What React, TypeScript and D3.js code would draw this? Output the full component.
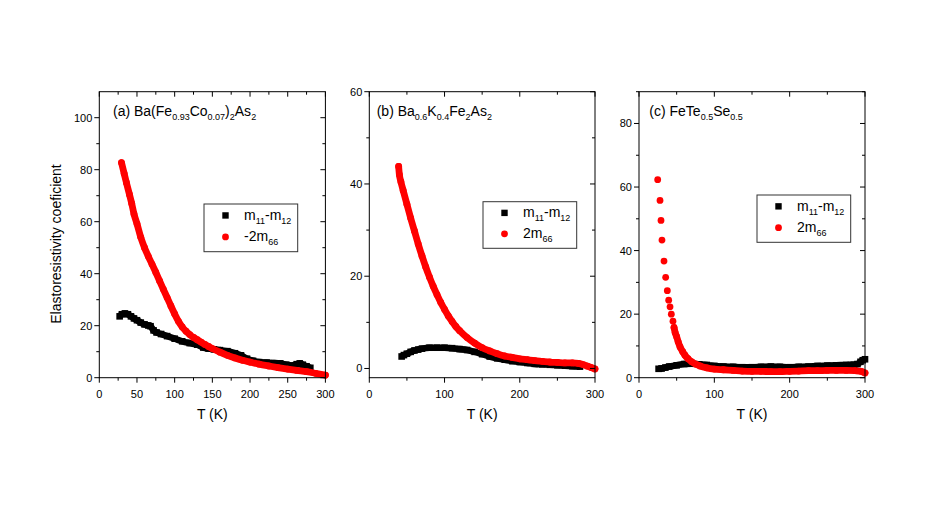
import React from "react";
import * as d3 from "d3";

type Pt = [number, number];

// (a) Ba(Fe0.93Co0.07)2As2
const aBlack: Pt[] = [
  [27, 23.6], [30, 24.4], [34, 24.7], [38, 24.4], [42, 23.6], [46, 22.8], [50, 22.1],
  [55, 21.2], [60, 20.5], [65, 20.1], [68, 19.8], [72, 18.2], [76, 17.4], [82, 16.8],
  [90, 16], [100, 15], [110, 14], [120, 13.3], [130, 12.7], [138, 11.6], [145, 11.2],
  [152, 10.9], [160, 10.6], [170, 10.2], [180, 9.4], [188, 8.6], [196, 7.3],
  [204, 6.5], [212, 6], [222, 5.8], [232, 5.6], [240, 5.5], [248, 5], [255, 4.7],
  [262, 5.2], [266, 5.5], [270, 5], [275, 4.4], [280, 3.8],
];
const aRed: Pt[] = [
  [29.5, 82.7], [33, 78.5], [36, 75], [40, 70.5], [43, 67], [46, 63], [50, 59.2],
  [55, 54], [60, 50], [65, 46.7], [70, 43.6], [75, 40.5], [80, 37.2], [85, 34],
  [90, 30.8], [95, 27.6], [100, 24.5], [105, 21.7], [110, 19.5], [115, 17.9],
  [120, 16.6], [125, 15.5], [130, 14.6], [135, 13.7], [140, 12.8], [145, 12],
  [150, 11.2], [160, 9.8], [170, 8.6], [180, 7.6], [190, 6.7], [200, 6], [212, 5.2],
  [225, 4.5], [237, 3.9], [250, 3.3], [262, 2.8], [275, 2.3], [287, 1.7], [300, 1],
];

// (b) Ba0.6K0.4Fe2As2
const bBlack: Pt[] = [
  [43, 2.6], [46, 2.9], [50, 3.2], [55, 3.6], [60, 3.9], [65, 4.1], [70, 4.3], [80, 4.5],
  [90, 4.5], [100, 4.5], [110, 4.4], [120, 4.2], [130, 4], [140, 3.6], [150, 3.1],
  [160, 2.6], [170, 2.2], [180, 1.9], [190, 1.6], [200, 1.4], [210, 1.2], [220, 1],
  [230, 0.9], [240, 0.8], [250, 0.7], [260, 0.6], [270, 0.5], [280, 0.4],
];
const bRed: Pt[] = [
  [39, 43.8], [40, 42], [42, 40.5], [45, 38.6], [50, 35.6], [55, 32.6], [60, 29.8],
  [65, 27], [70, 24.4], [75, 22], [80, 19.8], [85, 17.8], [90, 16], [95, 14.3],
  [100, 12.8], [105, 11.4], [110, 10.2], [115, 9.1], [120, 8.2], [130, 6.7], [140, 5.5],
  [150, 4.5], [160, 3.8], [170, 3.2], [180, 2.7], [190, 2.4], [200, 2.1], [210, 1.9],
  [220, 1.7], [230, 1.55], [240, 1.4], [250, 1.3], [260, 1.2], [270, 1.2], [278, 1.1],
  [285, 0.8], [290, 0.5], [295, 0.2], [300, -0.1],
];

// (c) FeTe0.5Se0.5
const cBlack: Pt[] = [
  [26, 2.8], [30, 2.9], [35, 3.2], [40, 3.5], [50, 3.9], [60, 4.3], [70, 4.4], [80, 4.2],
  [90, 4], [100, 3.7], [112, 3.5], [125, 3.4], [137, 3.3], [150, 3.3], [162, 3.4],
  [175, 3.5], [187, 3.4], [200, 3.3], [212, 3.4], [225, 3.5], [237, 3.7], [250, 3.8],
  [262, 3.9], [275, 4], [285, 4.1], [290, 4.3], [294, 5], [297, 5.5], [300, 5.8],
];
const cRedSparse: Pt[] = [
  [24.8, 62.3], [27.9, 55.8], [29.2, 49.5], [30.5, 43.3], [33.2, 36.7], [35.4, 31.6],
  [37.6, 27.4], [39.4, 24.4], [41.2, 22.3], [42.9, 20], [45.1, 17.8],
];
const cRed: Pt[] = [
  [46.5, 15.8], [48, 14.2], [50, 12.9], [52, 11.3], [54.5, 9.7], [58, 8.2], [61, 7.1],
  [65, 6], [70, 5], [75, 4.3], [81, 3.7], [90, 3.1], [100, 2.7], [112, 2.5], [125, 2.3],
  [137, 2.1], [150, 2], [162, 2], [175, 1.9], [187, 1.9], [200, 2], [212, 2.1],
  [225, 2.2], [237, 2.2], [250, 2.3], [262, 2.3], [275, 2.3], [287, 2.2], [295, 2],
  [300, 1.5],
];

const font = "'Liberation Sans', Arial, sans-serif";
const SUB_DY = 4;

// text with _{..} subscripts
const Rich: React.FC<{ x: number; y: number; s: string; size?: number; subSize?: number }> = ({
  x,
  y,
  s,
  size = 14,
  subSize = 9,
}) => {
  const parts = s.split(/(_\{[^}]*\})/).filter((d) => d !== "");
  let low = false;
  return (
    <text x={x} y={y} fontSize={size} fontFamily={font}>
      {parts.map((p, i) => {
        const isSub = p.startsWith("_{");
        const t = isSub ? p.slice(2, -1) : p;
        let dy = 0;
        if (isSub && !low) dy = SUB_DY;
        if (!isSub && low) dy = -SUB_DY;
        low = isSub;
        return (
          <tspan key={i} dy={dy} fontSize={isSub ? subSize : size}>
            {t}
          </tspan>
        );
      })}
    </text>
  );
};

interface Panel {
  left: number;
  right: number;
  yDomain: [number, number];
  yMajor: number[];
  yMinor: number[];
  xMajor: number[];
  xMinor: number[];
  title: string;
  titleX: number;
  black: Pt[];
  red: Pt[];
  redSparse: Pt[];
  redLabel: string;
  legend: [number, number, number, number];
}

const TOP = 91.7;
const BOTTOM = 377.7;

const panels: Panel[] = [
  {
    left: 99.3,
    right: 325.4,
    yDomain: [0, 110],
    yMajor: [0, 20, 40, 60, 80, 100],
    yMinor: [10, 30, 50, 70, 90],
    xMajor: [0, 50, 100, 150, 200, 250, 300],
    xMinor: [25, 75, 125, 175, 225, 275],
    titleX: 113,
    title: "(a) Ba(Fe_{0.93}Co_{0.07})_{2}As_{2}",
    black: aBlack,
    red: aRed,
    redSparse: [],
    redLabel: "-2m_{66}",
    legend: [204, 204, 297.7, 251.7],
  },
  {
    left: 369.3,
    right: 595,
    yDomain: [-2, 60],
    yMajor: [0, 20, 40, 60],
    yMinor: [10, 30, 50],
    xMajor: [0, 100, 200, 300],
    xMinor: [50, 150, 250],
    titleX: 376.7,
    title: "(b) Ba_{0.6}K_{0.4}Fe_{2}As_{2}",
    black: bBlack,
    red: bRed,
    redSparse: [],
    redLabel: "2m_{66}",
    legend: [483, 201.7, 576.7, 248.3],
  },
  {
    left: 639,
    right: 865,
    yDomain: [0, 90],
    yMajor: [0, 20, 40, 60, 80],
    yMinor: [10, 30, 50, 70, 90],
    xMajor: [0, 100, 200, 300],
    xMinor: [50, 150, 250],
    titleX: 649.3,
    title: "(c) FeTe_{0.5}Se_{0.5}",
    black: cBlack,
    red: cRed,
    redSparse: cRedSparse,
    redLabel: "2m_{66}",
    legend: [757, 195, 850.7, 242.3],
  },
];

const R = 3.4;
const SQ = 6.6;

const PanelView: React.FC<{ p: Panel }> = ({ p }) => {
  const x = d3.scaleLinear().domain([0, 300]).range([p.left, p.right]);
  const y = d3.scaleLinear().domain(p.yDomain).range([BOTTOM, TOP]);
  const line = d3
    .line<Pt>()
    .x((d) => x(d[0]))
    .y((d) => y(d[1]))
    .curve(d3.curveMonotoneX);
  const [lx0, ly0, lx1, ly1] = p.legend;
  const rowA = ly0 + (ly1 - ly0) * 0.24;
  const rowB = ly0 + (ly1 - ly0) * 0.69;
  const mx = lx0 + 21.5;
  const tx = lx0 + 40;
  return (
    <g>
      {/* data */}
      <path d={line(p.black) || ""} fill="none" stroke="#000" strokeWidth={SQ} />
      {p.black.map((d, i) => (
        <rect key={"b" + i} x={x(d[0]) - SQ / 2} y={y(d[1]) - SQ / 2} width={SQ} height={SQ} fill="#000" />
      ))}
      <path d={line(p.red) || ""} fill="none" stroke="#ff0000" strokeWidth={2 * R} strokeLinecap="round" />
      {p.red.concat(p.redSparse).map((d, i) => (
        <circle key={"r" + i} cx={x(d[0])} cy={y(d[1])} r={R} fill="#ff0000" />
      ))}

      {/* frame */}
      <rect x={p.left} y={TOP} width={p.right - p.left} height={BOTTOM - TOP} fill="none" stroke="#000" strokeWidth={1} />

      {/* y ticks */}
      {p.yMajor.map((v) => (
        <g key={"ym" + v}>
          <line x1={p.left - 5} x2={p.left} y1={y(v)} y2={y(v)} stroke="#000" />
          <line x1={p.right - 5} x2={p.right} y1={y(v)} y2={y(v)} stroke="#000" />
          <text x={p.left - 7} y={y(v)} dy="0.36em" textAnchor="end" fontSize={11} fontFamily={font}>
            {v}
          </text>
        </g>
      ))}
      {p.yMinor.map((v) => (
        <g key={"yn" + v}>
          <line x1={p.left - 3} x2={p.left} y1={y(v)} y2={y(v)} stroke="#000" />
          <line x1={p.right - 3} x2={p.right} y1={y(v)} y2={y(v)} stroke="#000" />
        </g>
      ))}

      {/* x ticks */}
      {p.xMajor.map((v) => (
        <g key={"xm" + v}>
          <line x1={x(v)} x2={x(v)} y1={BOTTOM} y2={BOTTOM + 5} stroke="#000" />
          <line x1={x(v)} x2={x(v)} y1={TOP} y2={TOP + 5} stroke="#000" />
          <text x={x(v)} y={BOTTOM + 20.5} textAnchor="middle" fontSize={11} fontFamily={font}>
            {v}
          </text>
        </g>
      ))}
      {p.xMinor.map((v) => (
        <g key={"xn" + v}>
          <line x1={x(v)} x2={x(v)} y1={BOTTOM} y2={BOTTOM + 3} stroke="#000" />
          <line x1={x(v)} x2={x(v)} y1={TOP} y2={TOP + 3} stroke="#000" />
        </g>
      ))}

      <text x={(p.left + p.right) / 2} y={419} textAnchor="middle" fontSize={14} fontFamily={font}>
        T (K)
      </text>

      <Rich x={p.titleX} y={115.5} s={p.title} />

      {/* legend */}
      <rect x={lx0} y={ly0} width={lx1 - lx0} height={ly1 - ly0} fill="#fff" stroke="#333" strokeWidth={1} />
      <rect x={mx - 3.2} y={rowA - 3.2} width={6.4} height={6.4} fill="#000" />
      <circle cx={mx} cy={rowB} r={3.4} fill="#ff0000" />
      <Rich x={tx} y={rowA + 4.5} s="m_{11}-m_{12}" />
      <Rich x={tx} y={rowB + 4.5} s={p.redLabel} />
    </g>
  );
};

export default function App() {
  return (
    <svg
      width={926}
      height={521}
      style={{ position: "absolute", left: 0, top: 0, background: "#fff" }}
    >
      <rect width={926} height={521} fill="#fff" />
      {panels.map((p, i) => (
        <PanelView key={i} p={p} />
      ))}
      <text
        transform="translate(61,244) rotate(-90)"
        textAnchor="middle"
        fontSize={14}
        fontFamily={font}
      >
        Elastoresistivity coeficient
      </text>
    </svg>
  );
}
